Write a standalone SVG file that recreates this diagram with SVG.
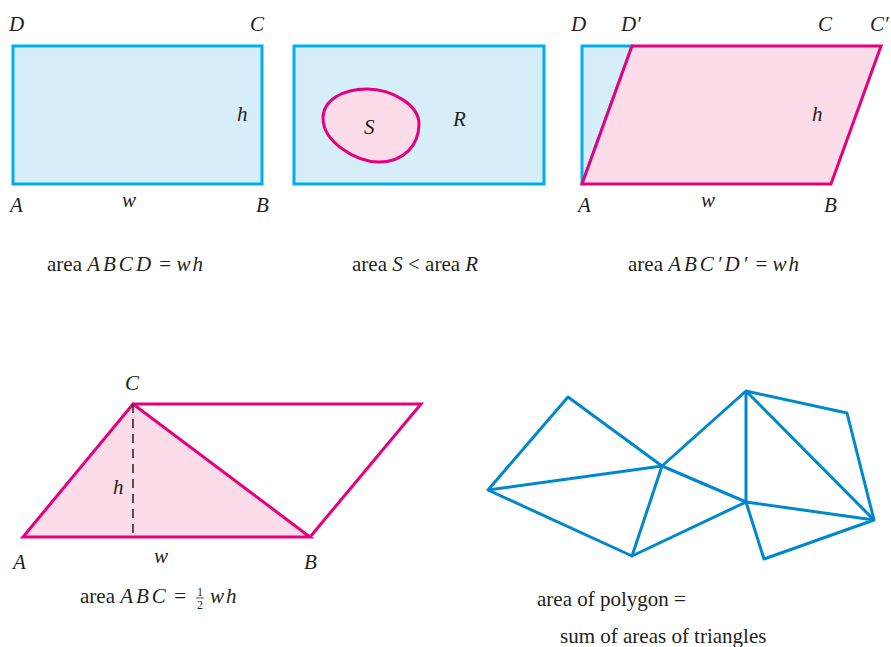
<svg xmlns="http://www.w3.org/2000/svg" width="891" height="647" viewBox="0 0 891 647">
<style>
text{font-family:"Liberation Serif","DejaVu Serif","Times New Roman",serif;fill:#231f20}
.lbl{font-size:21px;font-style:italic}
.cap{font-size:21px}
.it{font-style:italic}
.blue{fill:#d6eef9;stroke:#00aeef;stroke-width:3}
.pink{fill:#fbdce8;stroke:#e6007e;stroke-width:3;stroke-linejoin:miter}
.poly{fill:none;stroke:#0088cc;stroke-width:3;stroke-linecap:round;stroke-linejoin:round}
</style>
<rect width="891" height="647" fill="#ffffff"/>
<g id="panel-rect">
<rect class="blue" x="13" y="46" width="249" height="138"/>
<text class="lbl" x="9" y="31">D</text>
<text class="lbl" x="250" y="31">C</text>
<text class="lbl" x="237" y="121">h</text>
<text class="lbl" x="10" y="212">A</text>
<text class="lbl" x="122" y="207">w</text>
<text class="lbl" x="256" y="212">B</text>
<text class="cap" x="47" y="271">area <tspan class="it" letter-spacing="3">ABCD</tspan> = <tspan class="it" letter-spacing="2">wh</tspan></text>
</g>
<g id="panel-region">
<rect class="blue" x="294" y="46" width="250" height="138"/>
<path class="pink" d="M323,118 C323,100 343,89 367,89 C392,89 419,105 419,124 C419,145 404,162 379,162 C356,162 323,142 323,118 Z"/>
<text class="lbl" x="364" y="134">S</text>
<text class="lbl" x="453" y="126">R</text>
<text class="cap" x="352" y="271">area <tspan class="it">S</tspan> &lt; area <tspan class="it">R</tspan></text>
</g>
<g id="panel-parallelogram">
<polygon class="blue" points="582,184 582,46 632,46"/>
<polygon class="pink" points="582,184 831,184 881,46 632,46"/>
<text class="lbl" x="571" y="31">D</text>
<text class="lbl" x="621" y="31">D′</text>
<text class="lbl" x="818" y="31">C</text>
<text class="lbl" x="870" y="31">C′</text>
<text class="lbl" x="812" y="121">h</text>
<text class="lbl" x="578" y="212">A</text>
<text class="lbl" x="701" y="207">w</text>
<text class="lbl" x="824" y="212">B</text>
<text class="cap" x="628" y="271">area <tspan class="it" letter-spacing="3">ABC′D′</tspan> = <tspan class="it" letter-spacing="2">wh</tspan></text>
</g>
<g id="panel-triangle">
<polygon class="pink" points="23,537 310,537 133,404"/>
<polyline class="pink" style="fill:none" points="133,404 421,404 310,537"/>
<line x1="133" y1="404" x2="133" y2="537" stroke="#231f20" stroke-width="1.5" stroke-dasharray="9,6"/>
<text class="lbl" x="125" y="390">C</text>
<text class="lbl" x="113" y="494">h</text>
<text class="lbl" x="154" y="563">w</text>
<text class="lbl" x="13" y="569">A</text>
<text class="lbl" x="304" y="569">B</text>
<text class="cap" x="80" y="603">area <tspan class="it" letter-spacing="3">ABC</tspan> = </text>
<text x="197" y="596" font-size="12">1</text>
<line x1="196" y1="598" x2="204" y2="598" stroke="#231f20" stroke-width="0.8"/>
<text x="197" y="609" font-size="12">2</text>
<text class="cap it" x="210" y="603" letter-spacing="2">wh</text>
</g>
<g id="panel-polygon">
<path class="poly" d="M568,397 L488,490 L632,556 L746,502 L764,559 L874,520 L847,413 L746,391 L662,466 Z M488,490 L662,466 L632,556 M662,466 L746,502 L746,391 L874,520 M746,502 L874,520"/>
<text class="cap" x="537" y="606">area of polygon =</text>
<text class="cap" x="560" y="643">sum of areas of triangles</text>
</g>
</svg>
